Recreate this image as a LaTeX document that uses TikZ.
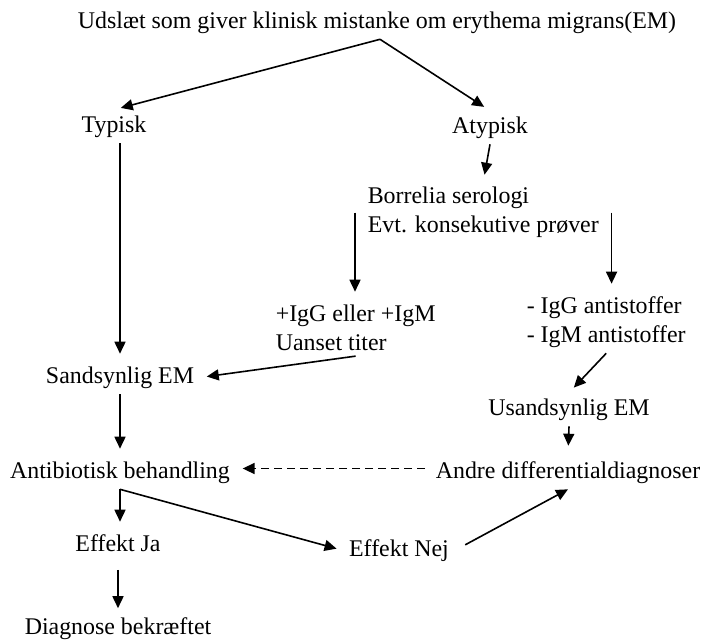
\documentclass[tikz,border=0pt]{standalone}
\usepackage{fontspec}
\setmainfont{Liberation Serif}
\usetikzlibrary{arrows.meta}

\begin{document}
\begin{tikzpicture}[x=1pt,y=-1pt,line width=1.6pt,
>={Triangle[length=12pt,width=11pt]},
font=\fontsize{23.9}{29}\selectfont,
testo/.style={inner sep=5pt,text height=16.5pt,text depth=5.5pt,anchor=base},
blocco/.style={inner sep=5pt,align=left,anchor=north west},
freccia/.style={->,shorten >=7pt},
tratteggio/.style={->,dash pattern=on 8pt off 5pt,shorten >=7pt,shorten <=5pt}
]
\useasboundingbox (0,0) rectangle (703,640);
%--
\node[testo](udslaet) at (377,28){Udslæt som giver klinisk mistanke om erythema migrans(EM)};
\node[testo](typisk) at (114,132){Typisk};
\node[testo](atypisk) at (490,133){Atypisk};
\draw [freccia] ([xshift=3pt]udslaet.south) -- (typisk.north);
\draw [freccia] ([xshift=3pt]udslaet.south) -- (atypisk.north);
%--
\node[blocco,inner xsep=12pt](serologi) at (355,181.6){Borrelia serologi\\Evt. konsekutive prøver};
\draw [freccia] (atypisk.south) -- (serologi.north);
\node[blocco](positiv) at (270,298.7){+IgG eller +IgM\\Uanset titer};
\draw [freccia] (serologi.west) -- (serologi.west |- positiv.north);
\node[blocco](negativ) at (521,290.7){- IgG antistoffer\\- IgM antistoffer};
\draw [freccia] (serologi.east) -- (serologi.east |- negativ.north);
%--
\node[testo](sandsynlig) at (120,383){Sandsynlig EM};
\draw [freccia] (sandsynlig.north |- typisk.south) -- (sandsynlig.north);
\draw [freccia] (positiv.south) -- (sandsynlig.east);
\node[testo](usandsynlig) at (569,415){Usandsynlig EM};
\draw [freccia] (negativ.south) -- (usandsynlig.north);
%--
\node[testo](behandling) at (120,478){Antibiotisk behandling};
\draw [freccia] (sandsynlig.south) -- (behandling.north);
\node[testo](andre) at (568,478){Andre differentialdiagnoser};
\draw [freccia,shorten >=10pt] (usandsynlig.south) -- (andre.north);
\draw [tratteggio] ([yshift=4pt]andre.west) -- ([yshift=4pt]behandling.east);
%--
\node[testo](ja) at (118,551){Effekt Ja};
\draw [freccia] (behandling.south) -- (behandling.south |- ja.north);
\node[testo](nej) at (399,556){Effekt Nej};
\draw [freccia] (behandling.south) -- (nej.west);
\draw [->,shorten <=12pt] (nej.east) -- (andre.south);
\node[testo](bekraeftet) at (118,634){Diagnose bekræftet};
\draw [->,shorten <=7.5pt,shorten >=3.5pt] (ja.south) -- (bekraeftet.north);
\end{tikzpicture}
\end{document}
